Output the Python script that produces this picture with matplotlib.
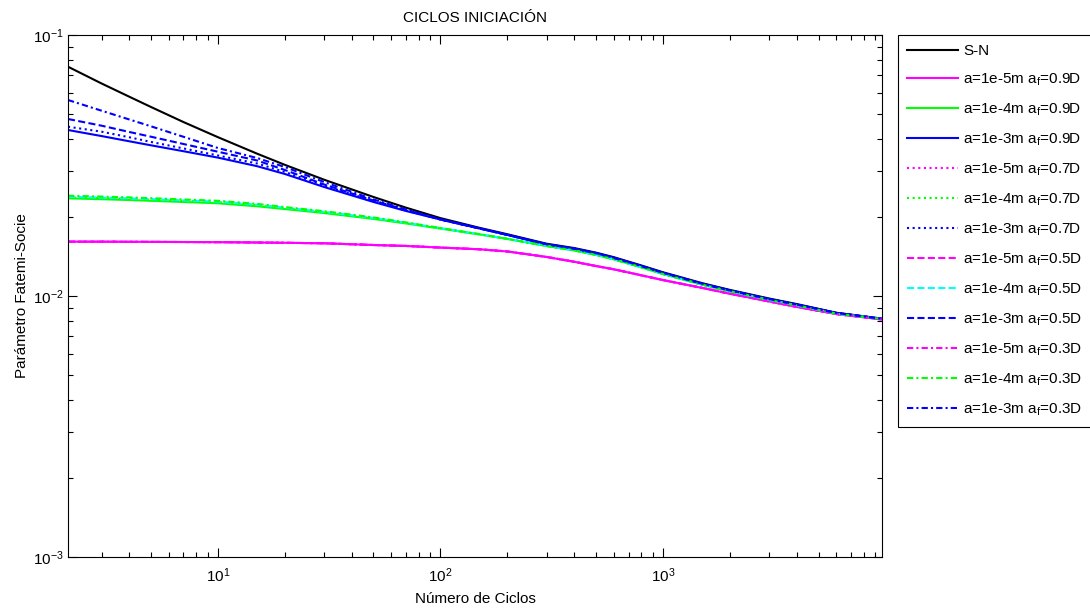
import matplotlib
matplotlib.use("Agg")
import matplotlib.pyplot as plt
from matplotlib.ticker import LogLocator, NullFormatter

plt.rcParams["font.family"] = ["Liberation Sans", "DejaVu Sans"]
plt.rcParams["mathtext.default"] = "regular"

# Number of cycles (shared abscissa of every curve)
cycles = [2.12, 3, 4, 5, 7, 10, 15, 20, 30, 50, 70, 100, 150, 200, 300,
          400, 500, 600, 800, 1000, 1500, 2000, 3000, 4000, 6000, 9640]

# Fatemi-Socie parameter, S-N curve
fs_sn = [0.0756, 0.0652, 0.0580, 0.0530, 0.0464, 0.0406, 0.0351, 0.0318,
         0.0279, 0.02395, 0.02180, 0.01988, 0.01824, 0.01724, 0.01586,
         0.01526, 0.01466, 0.01409, 0.01309, 0.01233, 0.01120, 0.01055,
         0.00978, 0.00931, 0.00863, 0.00819]

# a = 1e-5 m (same curve for every final crack size)
fs_a5 = [0.01615, 0.01615, 0.01613, 0.01612, 0.0161, 0.01608, 0.01603,
         0.01599, 0.01592, 0.01568, 0.01555, 0.01533, 0.01510, 0.01481,
         0.01411, 0.01352, 0.01303, 0.01266, 0.01200, 0.01151, 0.01074,
         0.01020, 0.00953, 0.00908, 0.00853, 0.00813]

# a = 1e-4 m
fs_a4_09 = [0.02367, 0.02349, 0.02332, 0.02316, 0.02292, 0.02266, 0.02207,
            0.02153, 0.02079, 0.01974, 0.01897, 0.01813, 0.01721, 0.01655,
            0.01555, 0.01495, 0.01437, 0.01383, 0.01288, 0.01214, 0.01105,
            0.01042, 0.00966, 0.00920, 0.00856, 0.00817]
fs_a4_07 = [0.02390, 0.02372, 0.02356, 0.02340, 0.02316, 0.02290, 0.02230,
            0.02170, 0.02094, 0.01985, 0.01904, 0.01817, 0.01723, 0.01655,
            0.01555, 0.01495, 0.01437, 0.01383, 0.01288, 0.01214, 0.01105,
            0.01042, 0.00966, 0.00920, 0.00856, 0.00817]
fs_a4_05 = [0.02400, 0.02382, 0.02366, 0.02350, 0.02325, 0.02298, 0.02238,
            0.02178, 0.02100, 0.01990, 0.01907, 0.01818, 0.01723, 0.01655,
            0.01555, 0.01495, 0.01437, 0.01383, 0.01288, 0.01214, 0.01105,
            0.01042, 0.00966, 0.00920, 0.00856, 0.00817]
fs_a4_03 = [0.02423, 0.02404, 0.02387, 0.02370, 0.02344, 0.02316, 0.02254,
            0.02191, 0.02113, 0.02000, 0.01914, 0.01822, 0.01725, 0.01655,
            0.01555, 0.01495, 0.01437, 0.01383, 0.01288, 0.01214, 0.01105,
            0.01042, 0.00966, 0.00920, 0.00856, 0.00817]

# a = 1e-3 m
fs_a3_09 = [0.04325, 0.0410, 0.03915, 0.03779, 0.03587, 0.03390, 0.03143,
            0.02934, 0.02616, 0.02292, 0.02117, 0.01964, 0.01814, 0.01714,
            0.01578, 0.01518, 0.01459, 0.01401, 0.01302, 0.01227, 0.01114,
            0.01050, 0.00973, 0.00927, 0.00861, 0.00818]
fs_a3_07 = [0.04453, 0.04261, 0.04056, 0.03894, 0.03677, 0.03454, 0.03219,
            0.02986, 0.02650, 0.02312, 0.02126, 0.01964, 0.01814, 0.01714,
            0.01578, 0.01518, 0.01459, 0.01401, 0.01302, 0.01227, 0.01114,
            0.01050, 0.00973, 0.00927, 0.00861, 0.00818]
fs_a3_05 = [0.04766, 0.04493, 0.04250, 0.04077, 0.03823, 0.03571, 0.03305,
            0.03039, 0.02675, 0.02322, 0.02136, 0.01964, 0.01814, 0.01714,
            0.01578, 0.01518, 0.01459, 0.01401, 0.01302, 0.01227, 0.01114,
            0.01050, 0.00973, 0.00927, 0.00861, 0.00818]
fs_a3_03 = [0.05636, 0.05128, 0.04745, 0.04469, 0.04074, 0.03690, 0.03378,
            0.03120, 0.02734, 0.02343, 0.02145, 0.01964, 0.01814, 0.01714,
            0.01578, 0.01518, 0.01459, 0.01401, 0.01302, 0.01227, 0.01114,
            0.01050, 0.00973, 0.00927, 0.00861, 0.00818]

labels = ["S-N",
          "a=1e-5m a$_f$=0.9D", "a=1e-4m a$_f$=0.9D", "a=1e-3m a$_f$=0.9D",
          "a=1e-5m a$_f$=0.7D", "a=1e-4m a$_f$=0.7D", "a=1e-3m a$_f$=0.7D",
          "a=1e-5m a$_f$=0.5D", "a=1e-4m a$_f$=0.5D", "a=1e-3m a$_f$=0.5D",
          "a=1e-5m a$_f$=0.3D", "a=1e-4m a$_f$=0.3D", "a=1e-3m a$_f$=0.3D"]
series = [fs_sn,
          fs_a5, fs_a4_09, fs_a3_09,
          fs_a5, fs_a4_07, fs_a3_07,
          fs_a5, fs_a4_05, fs_a3_05,
          fs_a5, fs_a4_03, fs_a3_03]

MAG, GRN, BLU, CYN = "#ff00ff", "#00ff00", "#0000ff", "#00ffff"
colors = ["black", MAG, GRN, BLU, MAG, GRN, BLU, MAG, CYN, BLU, MAG, GRN, BLU]
dotted = (0, (1.0, 1.7))
dashed = (0, (3.4, 1.6))
dashdot = (0, (3.0, 1.5, 1.0, 1.5))
styles = ["-", "-", "-", "-",
          dotted, dotted, dotted,
          dashed, dashed, dashed,
          dashdot, dashdot, dashdot]

W, H = 1090, 610
fig = plt.figure(figsize=(W / 100, H / 100), dpi=100)
ax = fig.add_axes([68 / W, 53 / H, 814 / W, 522 / H])

for vals, lab, col, ls in zip(series, labels, colors, styles):
    ax.plot(cycles, vals, color=col, lw=1.5, linestyle=ls, label=lab)

ax.set_xscale("log")
ax.set_yscale("log")
ax.set_xlim(cycles[0], cycles[-1])
ax.set_ylim(1e-3, 1e-1)

ax.xaxis.set_major_locator(LogLocator(base=10, numticks=10))
ax.xaxis.set_minor_locator(LogLocator(base=10, subs=range(2, 10), numticks=20))
ax.xaxis.set_minor_formatter(NullFormatter())
ax.yaxis.set_minor_formatter(NullFormatter())

ax.tick_params(which="both", direction="in", top=True, right=True,
               labelsize=11, colors="black")
ax.tick_params(which="major", length=6.2, width=0.8)
ax.tick_params(which="minor", length=3.8, width=0.8)
ax.tick_params(axis="y", pad=3)
ax.tick_params(axis="x", pad=7)
for sp in ax.spines.values():
    sp.set_linewidth(0.8)
    sp.set_color("black")

ax.set_title("CICLOS INICIACIÓN", fontsize=11, pad=9)
ax.set_xlabel("Número de Ciclos", fontsize=11, labelpad=5)
ax.set_ylabel("Parámetro Fatemi-Socie", fontsize=11, labelpad=3)

leg = fig.legend(loc="upper left", bbox_to_anchor=(898 / W, 1 - 35 / H),
                 borderaxespad=0, fontsize=11, frameon=True, fancybox=False,
                 edgecolor="black", framealpha=1, handlelength=3.3,
                 handletextpad=0.35, labelspacing=0.89, borderpad=0.6)
leg.get_frame().set_linewidth(0.8)

fig.savefig("out.png", dpi=100)
